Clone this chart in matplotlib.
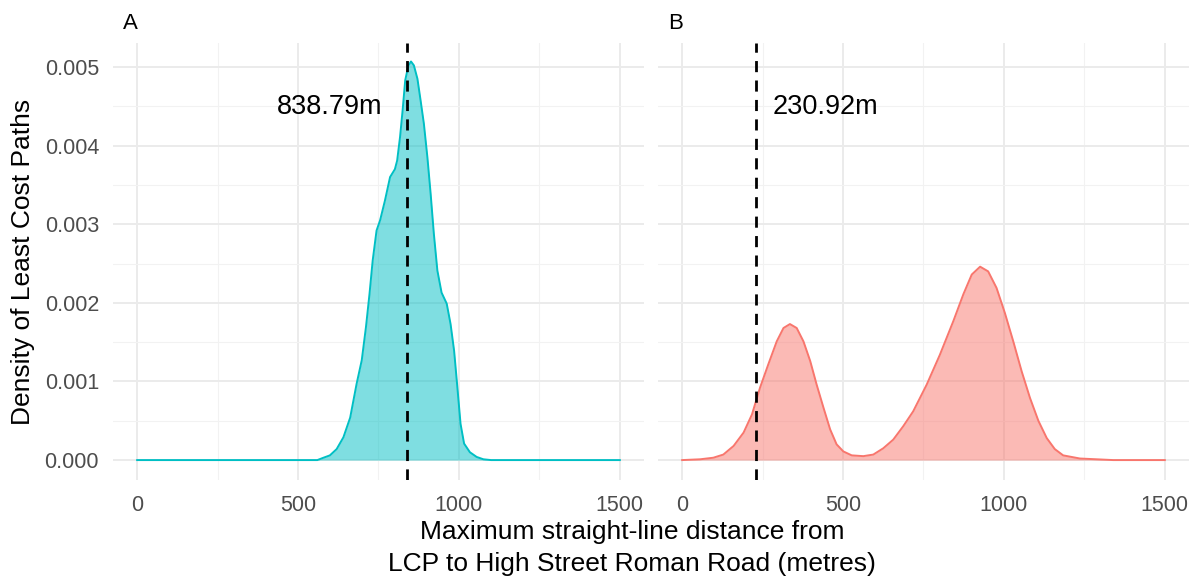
import matplotlib
matplotlib.use("Agg")
import matplotlib.pyplot as plt

plt.rcParams['font.family'] = ['Liberation Sans', 'DejaVu Sans']

# panel A: density of max distance for LCPs
a_x = [0, 300, 560, 579, 599, 620, 641, 662, 682, 698, 711, 722, 732, 744,
       755, 770, 786, 801, 808, 817, 825, 833, 843, 851, 860, 871, 881, 891,
       902, 912, 922, 933, 946, 962, 974, 985, 995, 1005, 1016, 1034, 1055,
       1076, 1100, 1200, 1500]
a_y = [0, 0, 0, 0.00003, 0.00006, 0.00014, 0.00029, 0.00054, 0.00097, 0.00127,
       0.00169, 0.00211, 0.00254, 0.00292, 0.00305, 0.0033, 0.0036, 0.0037,
       0.00381, 0.00411, 0.00445, 0.00483, 0.00502, 0.00507, 0.00502, 0.00485,
       0.00457, 0.00428, 0.00385, 0.00339, 0.00288, 0.00241, 0.00213, 0.00199,
       0.00173, 0.00139, 0.00093, 0.00046, 0.00021, 0.0001, 0.00004, 0.00001,
       0, 0, 0]

# panel B
b_x = [0, 56, 97, 128, 160, 191, 217, 242, 268, 294, 315, 335, 356, 377, 398,
       418, 439, 460, 480, 501, 527, 563, 594, 625, 656, 687, 718, 760, 801,
       843, 874, 900, 926, 951, 977, 1003, 1029, 1055, 1081, 1107, 1133, 1158,
       1184, 1236, 1340, 1500]
b_y = [0, 0.00001, 0.00003, 0.00007, 0.00018, 0.00035, 0.00058, 0.00092,
       0.00122, 0.00151, 0.00168, 0.00173, 0.00168, 0.00151, 0.00126, 0.00096,
       0.00067, 0.00039, 0.0002, 0.00011, 0.00006, 0.00005, 0.00007, 0.00015,
       0.00026, 0.00043, 0.00062, 0.00096, 0.00134, 0.00177, 0.00211, 0.00236,
       0.00246, 0.0024, 0.00219, 0.00187, 0.00151, 0.00113, 0.00079, 0.0005,
       0.00028, 0.00014, 0.00006, 0.00002, 0, 0]

a_line = 838.79
b_line = 230.92
panels = [
    ('A', a_x, a_y, '#00BFC4', a_line, '838.79m', 598, 0.00449),
    ('B', b_x, b_y, '#F8766D', b_line, '230.92m', 446, 0.00449),
]

fig = plt.figure(figsize=(11.97, 5.78), dpi=100)
lefts = [0.0944, 0.5497]
for i, (tag, xs, ys, col, vx, lab, tx, ty) in enumerate(panels):
    ax = fig.add_axes([lefts[i], 0.1696, 0.4436, 0.7567])
    ax.set_xlim(-75, 1575)
    ax.set_ylim(-0.000253, 0.00531)
    ax.set_xticks([0, 500, 1000, 1500])
    ax.set_xticks([250, 750, 1250], minor=True)
    ax.set_yticks([0, 0.001, 0.002, 0.003, 0.004, 0.005])
    ax.set_yticks([0.0005, 0.0015, 0.0025, 0.0035, 0.0045], minor=True)
    ax.grid(which='major', color='#EBEBEB', linewidth=1.4)
    ax.grid(which='minor', color='#F2F2F2', linewidth=0.8)
    ax.set_axisbelow(True)
    for s in ax.spines.values():
        s.set_visible(False)
    ax.tick_params(which='both', length=0, labelsize=15.5, labelcolor='#4D4D4D')
    ax.tick_params(axis='x', pad=11)
    ax.tick_params(axis='y', pad=10)
    if i == 1:
        ax.tick_params(labelleft=False)
    else:
        ax.set_yticklabels(['0.000', '0.001', '0.002', '0.003', '0.004', '0.005'])
    ax.fill_between(xs, ys, color=col, alpha=0.5, linewidth=0)
    ax.plot(xs, ys, color=col, linewidth=1.4)
    ax.axvline(vx, color='black', linestyle=(0, (4, 3)), linewidth=2)
    ax.text(tx, ty, lab, fontsize=19.5, ha='center', va='center', color='black')
    ax.text(0.019, 1.031, tag, transform=ax.transAxes, fontsize=16,
            ha='left', va='baseline')

fig.text(0.019, 0.5475, 'Density of Least Cost Paths', rotation=90, fontsize=19,
         ha='center', va='center')
fig.text(632 / 1197, 0.052, 'Maximum straight-line distance from\nLCP to High Street Roman Road (metres)',
         fontsize=19, ha='center', va='center', linespacing=1.4)

fig.savefig('out.png', dpi=100)
